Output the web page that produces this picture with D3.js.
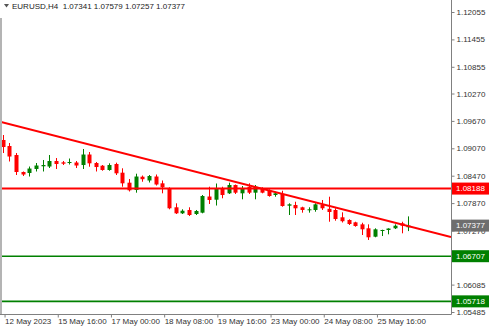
<!DOCTYPE html>
<html>
<head>
<meta charset="utf-8">
<script src="https://cdn.jsdelivr.net/npm/d3@7"></script>
<style>
  html, body { margin: 0; padding: 0; background: #fff; }
  svg { display: block; font-family: "Liberation Sans", Arial, sans-serif; }
</style>
</head>
<body>
<svg id="chart" width="490" height="332"></svg>
<script>
// EURUSD H4 bars, 12 May 08:00 – 26 May 12:00 (2023)
const times = [
  "2023-05-12 08:00","2023-05-12 12:00","2023-05-12 16:00","2023-05-12 20:00",
  "2023-05-15 00:00","2023-05-15 04:00","2023-05-15 08:00","2023-05-15 12:00","2023-05-15 16:00","2023-05-15 20:00",
  "2023-05-16 00:00","2023-05-16 04:00","2023-05-16 08:00","2023-05-16 12:00","2023-05-16 16:00","2023-05-16 20:00",
  "2023-05-17 00:00","2023-05-17 04:00","2023-05-17 08:00","2023-05-17 12:00","2023-05-17 16:00","2023-05-17 20:00",
  "2023-05-18 00:00","2023-05-18 04:00","2023-05-18 08:00","2023-05-18 12:00","2023-05-18 16:00","2023-05-18 20:00",
  "2023-05-19 00:00","2023-05-19 04:00","2023-05-19 08:00","2023-05-19 12:00","2023-05-19 16:00","2023-05-19 20:00",
  "2023-05-22 00:00","2023-05-22 04:00","2023-05-22 08:00","2023-05-22 12:00","2023-05-22 16:00","2023-05-22 20:00",
  "2023-05-23 00:00","2023-05-23 04:00","2023-05-23 08:00","2023-05-23 12:00","2023-05-23 16:00","2023-05-23 20:00",
  "2023-05-24 00:00","2023-05-24 04:00","2023-05-24 08:00","2023-05-24 12:00","2023-05-24 16:00","2023-05-24 20:00",
  "2023-05-25 00:00","2023-05-25 04:00","2023-05-25 08:00","2023-05-25 12:00","2023-05-25 16:00","2023-05-25 20:00",
  "2023-05-26 00:00","2023-05-26 04:00","2023-05-26 08:00","2023-05-26 12:00"
];

const opens = [
  1.09252,1.09120,1.08923,1.08551,1.08529,1.08617,1.08676,1.08671,1.08792,1.08763,
  1.08748,1.08759,1.08704,1.08934,1.08748,1.08689,1.08595,1.08726,1.08536,1.08317,
  1.08157,1.08448,1.08365,1.08452,1.08303,1.08194,1.07778,1.07646,1.07719,1.07631,
  1.07660,1.08014,1.07944,1.08194,1.08084,1.08266,1.08084,1.08229,1.08098,1.08194,
  1.08141,1.08047,1.08069,1.07813,1.07828,1.07778,1.07719,1.07719,1.07828,1.07745,
  1.07719,1.07559,1.07500,1.07449,1.07405,1.07318,1.07134,1.07259,1.07281,1.07318,
  1.07427,1.07341
];
const highs = [
  1.09361,1.09186,1.08967,1.08562,1.08671,1.08748,1.08814,1.08923,1.08857,1.08792,
  1.08846,1.08792,1.09055,1.08989,1.08770,1.08704,1.08741,1.08755,1.08632,1.08397,
  1.08514,1.08474,1.08485,1.08496,1.08365,1.08216,1.07865,1.07734,1.07778,1.07719,
  1.08047,1.08229,1.08299,1.08229,1.08317,1.08277,1.08244,1.08303,1.08266,1.08216,
  1.08172,1.08119,1.08141,1.07865,1.07900,1.07791,1.07778,1.07865,1.07938,1.08010,
  1.07756,1.07668,1.07515,1.07462,1.07440,1.07405,1.07318,1.07287,1.07318,1.07405,
  1.07462,1.07579
];
const lows = [
  1.08967,1.08781,1.08485,1.08463,1.08452,1.08562,1.08562,1.08638,1.08617,1.08704,
  1.08715,1.08638,1.08617,1.08667,1.08562,1.08579,1.08579,1.08485,1.08229,1.08124,
  1.08098,1.08338,1.08321,1.08255,1.08084,1.07734,1.07631,1.07631,1.07587,1.07609,
  1.07646,1.07850,1.07817,1.07975,1.08069,1.08069,1.07953,1.08069,1.07953,1.08084,
  1.08010,1.08010,1.07791,1.07609,1.07609,1.07660,1.07660,1.07681,1.07719,1.07462,
  1.07484,1.07445,1.07390,1.07353,1.07171,1.07062,1.07121,1.07149,1.07186,1.07302,
  1.07208,1.07257
];
const closes = [
  1.09098,1.08890,1.08551,1.08496,1.08627,1.08693,1.08704,1.08792,1.08726,1.08733,
  1.08770,1.08693,1.08934,1.08741,1.08660,1.08595,1.08704,1.08522,1.08303,1.08150,
  1.08452,1.08393,1.08463,1.08277,1.08216,1.07756,1.07646,1.07703,1.07609,1.07697,
  1.08025,1.07938,1.08179,1.08047,1.08266,1.08098,1.08194,1.08098,1.08229,1.08098,
  1.08025,1.08084,1.07806,1.07843,1.07756,1.07719,1.07734,1.07843,1.07756,1.07675,
  1.07522,1.07473,1.07412,1.07368,1.07296,1.07121,1.07296,1.07281,1.07313,1.07375,
  1.07375,1.07377
];

// Price scale labels on the right axis
const priceTicks = [1.12055,1.11455,1.10855,1.10270,1.09670,1.09070,1.08470,1.07870,1.07270,1.06085,1.05485];

// Time scale labels: bar time -> text
const timeTickAt = ["2023-05-12 08:00","2023-05-15 16:00","2023-05-17 00:00","2023-05-18 08:00",
                    "2023-05-19 16:00","2023-05-23 00:00","2023-05-24 08:00","2023-05-25 16:00"];
const timeTickText = ["12 May 2023","15 May 16:00","17 May 00:00","18 May 08:00",
                      "19 May 16:00","23 May 00:00","24 May 08:00","25 May 16:00"];

// Horizontal levels
const levelPrices = [1.08188, 1.06707, 1.05718];
const levelColors = ["#ff0000", "#008000", "#008000"];

// Trend line anchors (bar time, price)
const trendTimes = ["2023-05-12 08:00", "2023-05-26 12:00"];
const trendPrices = [1.09639, 1.07368];

const symbolTitle = "EURUSD,H4";
const lastBar = { o: opens[opens.length-1], h: highs[highs.length-1], l: lows[lows.length-1], c: closes[closes.length-1] };

const bars = times.map((t, i) => ({ t, o: opens[i], h: highs[i], l: lows[i], c: closes[i] }));

const W = 490, H = 332;
const plotRight = 451, plotBottom = 314;
const step = 6.65;

const svg = d3.select("#chart");

const x = d3.scaleBand()
  .domain(times)
  .range([-0.6, -0.6 + times.length * step])
  .paddingInner(0.3)
  .paddingOuter(0.15);
const cx = t => x(t) + x.bandwidth() / 2;

const y = d3.scaleLinear()
  .domain([1.05485, 1.12055])
  .range([312, 12]);

const fmt = d3.format(".5f");

// clip region for the plot
svg.append("clipPath").attr("id", "plotClip")
  .append("rect").attr("x", 0).attr("y", 0).attr("width", plotRight).attr("height", plotBottom);

const plot = svg.append("g").attr("clip-path", "url(#plotClip)");

// left frame edge
svg.append("rect").attr("x", 0).attr("y", 18).attr("width", 2).attr("height", plotBottom - 18)
  .attr("fill", "#b4b4b4");

// candles
const candle = plot.selectAll("g.bar").data(bars).join("g").attr("class", "bar");
const colorOf = d => d.c >= d.o ? "#008000" : "#ff0000";
candle.append("line")
  .attr("x1", d => Math.round(cx(d.t)) + 0.5).attr("x2", d => Math.round(cx(d.t)) + 0.5)
  .attr("y1", d => y(d.h)).attr("y2", d => y(d.l))
  .attr("stroke", colorOf).attr("stroke-width", 1);
const bodyW = 4;
candle.append("rect")
  .attr("x", d => Math.round(cx(d.t)) + 0.5 - bodyW / 2)
  .attr("width", bodyW)
  .attr("y", d => Math.min(y(d.o), y(d.c)))
  .attr("height", d => Math.max(1, Math.abs(y(d.o) - y(d.c))))
  .attr("fill", colorOf);

// horizontal levels
plot.selectAll("line.level").data(levelPrices).join("line").attr("class", "level")
  .attr("x1", 0).attr("x2", plotRight)
  .attr("y1", d => y(d)).attr("y2", d => y(d))
  .attr("stroke", (d, i) => levelColors[i]).attr("stroke-width", (d, i) => i === 0 ? 2 : 1.6);

// trend line, extended across the plot
{
  const x1 = cx(trendTimes[0]), y1 = y(trendPrices[0]);
  const x2 = cx(trendTimes[1]), y2 = y(trendPrices[1]);
  const k = (y2 - y1) / (x2 - x1);
  plot.append("line")
    .attr("x1", 0).attr("y1", y1 + (0 - x1) * k)
    .attr("x2", plotRight).attr("y2", y1 + (plotRight - x1) * k)
    .attr("stroke", "#ff0000").attr("stroke-width", 2);
}

// axes frame
svg.append("line").attr("x1", plotRight + 0.5).attr("x2", plotRight + 0.5)
  .attr("y1", 0).attr("y2", plotBottom + 0.5).attr("stroke", "#808080");
svg.append("line").attr("x1", 0).attr("x2", plotRight + 0.5)
  .attr("y1", plotBottom + 0.5).attr("y2", plotBottom + 0.5).attr("stroke", "#808080");

// right price axis
const yAxis = d3.axisRight(y).tickValues(priceTicks).tickFormat(fmt).tickSize(3).tickPadding(2);
const gy = svg.append("g").attr("transform", `translate(${plotRight + 0.5},0)`).call(yAxis);
gy.select(".domain").remove();
gy.selectAll(".tick line").attr("stroke", "#808080");
gy.selectAll(".tick text").attr("fill", "#333").style("font-size", "8px").style("font-family", "Liberation Sans, Arial, sans-serif");

// bottom time axis
const xAxis = d3.axisBottom(x).tickValues(timeTickAt).tickFormat((d, i) => timeTickText[i]).tickSize(3);
const gx = svg.append("g").attr("transform", `translate(${x.bandwidth()/2},${plotBottom + 0.5})`).call(xAxis);
gx.select(".domain").remove();
gx.selectAll(".tick line").attr("stroke", "#808080");
gx.selectAll(".tick text").attr("fill", "#333").attr("text-anchor", "start").attr("x", 0).attr("y", 4).attr("dy", "0.71em")
  .style("font-size", "8px").style("font-family", "Liberation Sans, Arial, sans-serif");

// price tags on the right axis
const tags = levelPrices.map((p, i) => ({ p, color: levelColors[i] }));
tags.push({ p: lastBar.c, color: "#6e6e6e" });
const tag = svg.selectAll("g.tag").data(tags).join("g").attr("class", "tag")
  .attr("transform", d => `translate(${plotRight + 1},${y(d.p)})`);
tag.append("rect").attr("x", 0).attr("y", -6).attr("width", 37).attr("height", 12).attr("fill", d => d.color);
tag.append("text").attr("x", 4).attr("dy", "0.35em").attr("fill", "#fff")
  .style("font-size", "8px").text(d => fmt(d.p));

// symbol header
svg.append("path").attr("d", "M4,4 L9,4 L6.5,7.5 Z").attr("fill", "#555");
svg.append("text").attr("x", 12).attr("y", 9).attr("fill", "#222").style("font-size", "8px")
  .attr("xml:space", "preserve")
  .text(`${symbolTitle}  ${[lastBar.o, lastBar.h, lastBar.l, lastBar.c].map(fmt).join(" ")}`);
</script>
</body>
</html>
